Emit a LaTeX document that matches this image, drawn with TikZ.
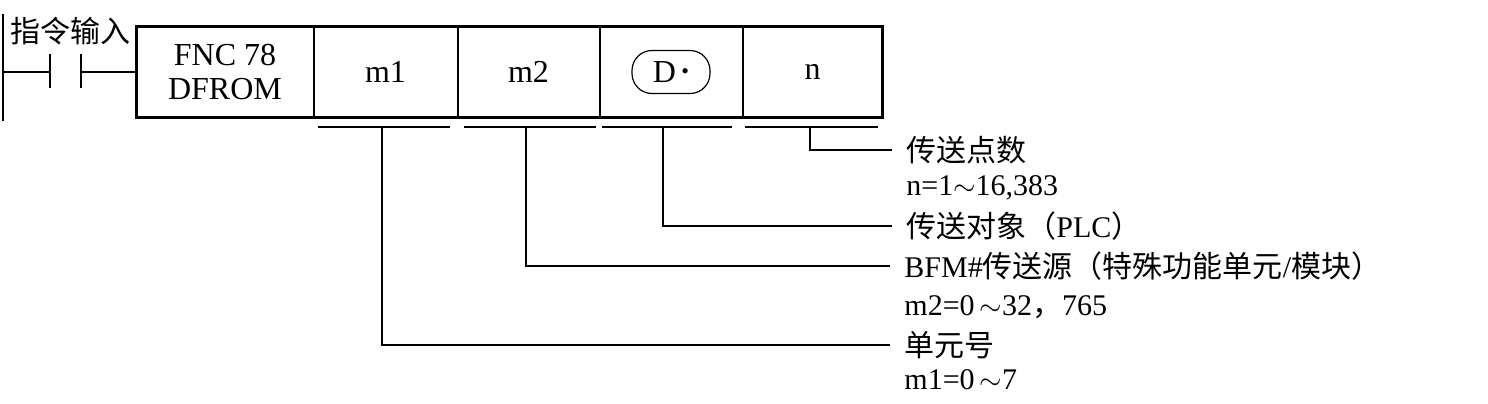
\documentclass[tikz,border=0pt]{standalone}
\usepackage{fontspec}
\setmainfont{Liberation Serif}
\newfontfamily\cjk{Noto Sans CJK SC}
\usetikzlibrary{positioning}

\begin{document}
\begin{tikzpicture}[x=0.5pt,y=-0.5pt,
  cell/.style={draw,line width=0.5pt,minimum height=45pt,inner sep=0pt,
    font=\fontsize{16}{17}\selectfont},
  lbl/.style={anchor=west,inner ysep=0pt,inner xsep=7pt,
    font=\fontsize{15}{16}\selectfont},
  wire/.style={line width=0.8pt},
  uline/.style={line width=1pt}]
  \useasboundingbox (0,0) rectangle (1488,403);
  % ladder rail and input contact
  \draw[line width=1pt] (3,14) -- (3,121);
  \node[lbl,inner xsep=0pt] (inp) at (10,31) {\cjk 指令输入};
  \coordinate (ca) at (50,72);
  \coordinate (cb) at (81,72);
  \draw[wire] (3,72) -- (ca);
  \draw[wire] (50,54) -- (50,88);
  \draw[wire] (81,54) -- (81,88);
  % instruction cells
  \node[cell,minimum width=88pt,align=center] (fnc) at (225,72) {FNC 78\\DFROM};
  \node[cell,minimum width=71.5pt,right=0pt of fnc] (mone) {m1};
  \node[cell,minimum width=70.5pt,right=0pt of mone] (mtwo) {m2};
  \node[cell,minimum width=71pt,right=0pt of mtwo] (dst) {};
  \node[cell,minimum width=69.5pt,right=0pt of dst] (num) {n};
  \node[draw,line width=0.6pt,rounded corners=10pt,minimum width=39pt,
    minimum height=21.5pt,inner sep=0pt,font=\fontsize{16}{17}\selectfont]
    (dpt) at (dst) {D\,\raisebox{0.12em}{\fontsize{11}{11}\selectfont\textbullet}};
  \draw[line width=1.2pt] (fnc.north west) rectangle (num.south east);
  \draw[wire] (cb) -- (fnc.west);
  % operand underlines
  \draw[uline] (318,127) -- (450,127);
  \draw[uline] (464,127) -- (596,127);
  \draw[uline] (602,127) -- (732,127);
  \draw[uline] (745,127) -- (878,127);
  \coordinate (sone) at (382,127);
  \coordinate (stwo) at (526,127);
  \coordinate (sdst) at (663,127);
  \coordinate (snum) at (810,127);
  % legend
  \node[lbl] (tnum) at (892,150) {\cjk 传送点数};
  \node[lbl] (rnum) at (892,188) {n=1$\sim$16,383};
  \node[lbl] (tdst) at (892,226) {{\cjk 传送对象（}PLC{\cjk ）}};
  \node[lbl] (ttwo) at (890,266) {BFM\#{\cjk 传送源（特殊功能单元}/{\cjk 模块）}};
  \node[lbl] (rtwo) at (890,307) {m2=0\,$\sim$32{\cjk ，}765};
  \node[lbl] (tone) at (890,345) {\cjk 单元号};
  \node[lbl] (rone) at (890,380) {m1=0\,$\sim$7};
  \draw[wire] (snum) |- (tnum.west);
  \draw[wire] (sdst) |- (tdst.west);
  \draw[wire] (stwo) |- (ttwo.west);
  \draw[wire] (sone) |- (tone.west);
\end{tikzpicture}
\end{document}
